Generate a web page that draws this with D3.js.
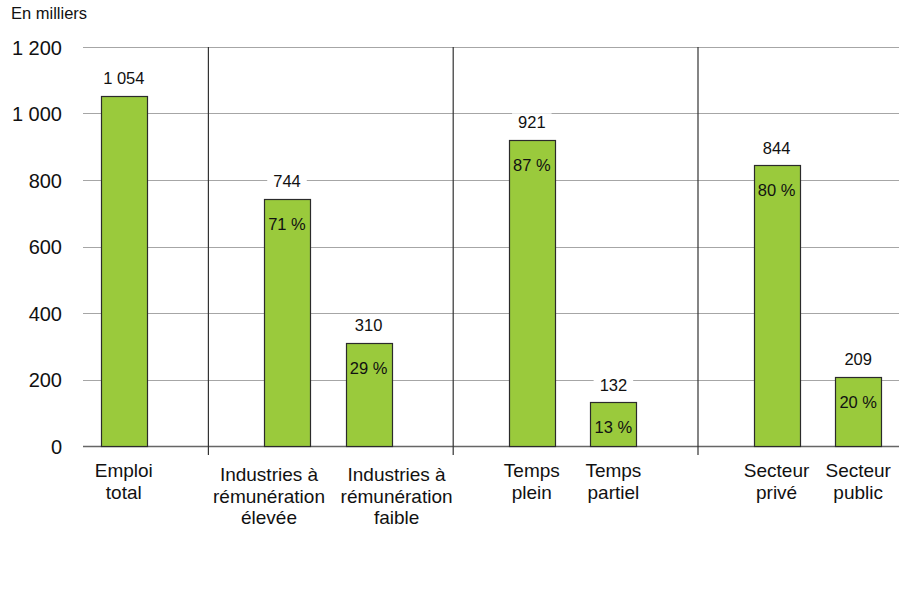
<!DOCTYPE html>
<html>
<head>
<meta charset="utf-8">
<script src="https://cdn.jsdelivr.net/npm/d3@7"></script>
<style>
  body { margin: 0; background: #fff; }
  text { font-family: Arial, "Liberation Sans", sans-serif; fill: #111; }
</style>
</head>
<body>
<svg id="chart" width="900" height="593"></svg>
<script>
// slots (empty ones hold the separator lines)
const slots = ["emploi", "sep1", "elevee", "faible", "sep2", "plein", "partiel", "sep3", "prive", "public"];
const barKeys = ["emploi", "elevee", "faible", "plein", "partiel", "prive", "public"];
const values = [1054, 744, 310, 921, 132, 844, 209];
const valueLabels = ["1 054", "744", "310", "921", "132", "844", "209"];
const pctLabels = ["", "71 %", "29 %", "87 %", "13 %", "80 %", "20 %"];
const catLabels = [
  ["Emploi", "total"],
  ["Industries à", "rémunération", "élevée"],
  ["Industries à", "rémunération", "faible"],
  ["Temps", "plein"],
  ["Temps", "partiel"],
  ["Secteur", "privé"],
  ["Secteur", "public"]
];
// the two long labels sit off-centre in the original
const catShift = [0, -18, 28, 0, 0, 0, 0];
const separators = ["sep1", "sep2", "sep3"];
const yTicks = [0, 200, 400, 600, 800, 1000, 1200];
const yTickLabels = ["0", "200", "400", "600", "800", "1 000", "1 200"];

const svg = d3.select("#chart");

const x = d3.scaleBand().domain(slots).range([83, 899]).paddingInner(0).paddingOuter(0);
const y = d3.scaleLinear().domain([0, 1200]).range([446, 47]);
const barW = 46;

// gridlines
svg.append("g")
  .selectAll("line")
  .data(yTicks)
  .join("line")
  .attr("x1", 83).attr("x2", 899)
  .attr("y1", d => Math.round(y(d)) + 0.5)
  .attr("y2", d => Math.round(y(d)) + 0.5)
  .attr("stroke", d => d === 0 ? "#666" : "#a6a6a6")
  .attr("stroke-width", d => d === 0 ? 1.5 : 1);

// tick labels
svg.append("g")
  .selectAll("text")
  .data(yTicks)
  .join("text")
  .attr("x", 62)
  .attr("y", d => y(d) + 7.5)
  .attr("text-anchor", "end")
  .style("font-size", "20px")
  .text((d, i) => yTickLabels[i]);

svg.append("text")
  .attr("x", 11).attr("y", 18.5)
  .style("font-size", "16.5px")
  .text("En milliers");

// separators
svg.append("g")
  .selectAll("line")
  .data(separators)
  .join("line")
  .attr("x1", d => x(d) + x.bandwidth() / 2 + 3)
  .attr("x2", d => x(d) + x.bandwidth() / 2 + 3)
  .attr("y1", y(1200))
  .attr("y2", 455)
  .attr("stroke", "#333")
  .attr("stroke-width", 1.2);

const cx = k => x(k) + x.bandwidth() / 2;

// bars
svg.append("g")
  .selectAll("rect")
  .data(barKeys)
  .join("rect")
  .attr("x", d => Math.round(cx(d) - barW / 2) + 0.5)
  .attr("y", (d, i) => Math.round(y(values[i])) + 0.5)
  .attr("width", barW)
  .attr("height", (d, i) => Math.round(y(0)) - Math.round(y(values[i])))
  .attr("fill", "#9aca3c")
  .attr("stroke", "#2b2b2b")
  .attr("stroke-width", 1.2);

// value labels with white box
const vl = svg.append("g")
  .selectAll("g")
  .data(barKeys)
  .join("g")
  .attr("transform", (d, i) => `translate(${cx(d)},${y(values[i]) - 11.5})`);
vl.append("rect")
  .attr("fill", "#fff");
vl.append("text")
  .attr("text-anchor", "middle")
  .style("font-size", "16.5px")
  .text((d, i) => valueLabels[i]);
vl.each(function () {
  const g = d3.select(this);
  const w = g.select("text").node().getComputedTextLength() + 12;
  g.select("rect").attr("x", -w / 2).attr("y", -15).attr("width", w).attr("height", 20);
});

// percent labels inside bars
svg.append("g")
  .selectAll("text")
  .data(barKeys)
  .join("text")
  .attr("x", d => cx(d))
  .attr("y", (d, i) => y(values[i]) + 31)
  .attr("text-anchor", "middle")
  .style("font-size", "16.5px")
  .text((d, i) => pctLabels[i]);

// category labels
const cl = svg.append("g")
  .selectAll("text")
  .data(barKeys)
  .join("text")
  .attr("x", (d, i) => cx(d) + catShift[i])
  .attr("y", (d, i) => catLabels[i].length > 2 ? 481 : 477)
  .attr("text-anchor", "middle")
  .style("font-size", "19px");
cl.selectAll("tspan")
  .data((d, i) => catLabels[i])
  .join("tspan")
  .attr("x", function () { return d3.select(this.parentNode).attr("x"); })
  .attr("dy", (d, j) => j === 0 ? 0 : 21.5)
  .text(d => d);
</script>
</body>
</html>
